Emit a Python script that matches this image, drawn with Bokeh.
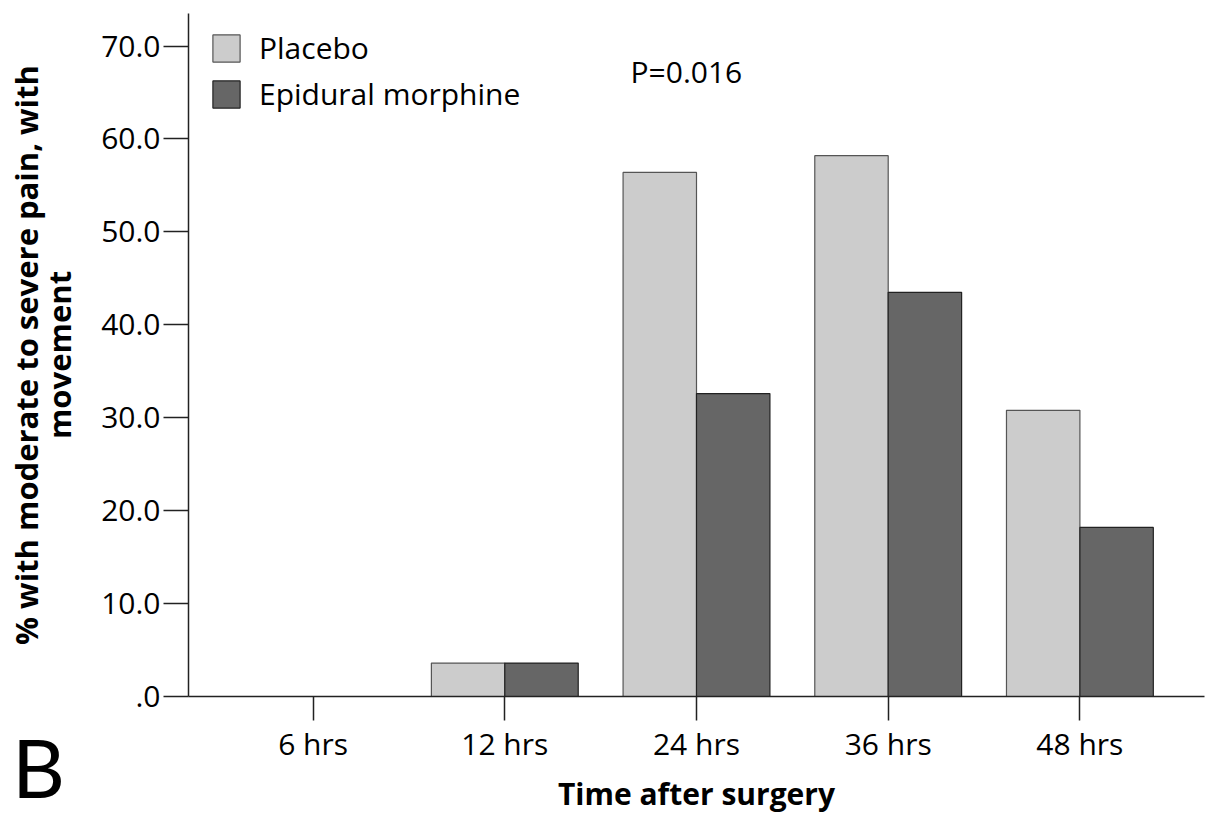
from bokeh.plotting import figure
from bokeh.models import Range1d, FixedTicker, Legend, LegendItem, Label, Div
from bokeh.layouts import column
from bokeh.embed import file_html
from bokeh.resources import INLINE

# Data: % of patients with moderate to severe pain on movement
times = ["6 hrs", "12 hrs", "24 hrs", "36 hrs", "48 hrs"]
placebo = [0.0, 3.6, 56.4, 58.2, 30.8]
epidural = [0.0, 3.6, 32.6, 43.5, 18.2]
y_ticks = [0, 10, 20, 30, 40, 50, 60, 70]
y_tick_labels = [".0", "10.0", "20.0", "30.0", "40.0", "50.0", "60.0", "70.0"]
p_value_text = "P=0.016"
panel_letter = "B"

FONT = "Open Sans"
BAR_W = 0.383
idx = list(range(len(times)))

p = figure(width=1212, height=816, output_backend="svg", toolbar_location=None,
           x_range=Range1d(-0.65, 4.65), y_range=Range1d(0, 73.5),
           min_border_left=188, min_border_right=8, min_border_top=13,
           min_border_bottom=120)
p.outline_line_color = None
p.xgrid.visible = False
p.ygrid.visible = False
p.background_fill_color = "white"
p.border_fill_color = "white"

r_pl = p.vbar(x=[i - BAR_W / 2 for i in idx], top=placebo, width=BAR_W, bottom=0,
              fill_color="#cccccc", line_color="#555555", line_width=1.2)
r_ep = p.vbar(x=[i + BAR_W / 2 for i in idx], top=epidural, width=BAR_W, bottom=0,
              fill_color="#666666", line_color="#222222", line_width=1.2)

# y axis
ya = p.yaxis[0]
ya.ticker = FixedTicker(ticks=y_ticks)
ya.major_label_overrides = {t: s for t, s in zip(y_ticks, y_tick_labels)}
ya.minor_tick_line_color = None
ya.major_tick_in = 0
ya.major_tick_out = 25
ya.major_label_standoff = 3
ya.axis_line_color = "#222222"
ya.major_tick_line_color = "#222222"
ya.axis_line_width = 1.5
ya.major_tick_line_width = 1.5
ya.major_label_text_font = FONT
ya.major_label_text_font_size = "30px"
ya.major_label_text_color = "black"
ya.axis_label = "% with moderate to severe pain, with\nmovement"
ya.axis_label_text_font = FONT
ya.axis_label_text_font_size = "31px"
ya.axis_label_text_font_style = "bold"
ya.axis_label_text_color = "black"
ya.axis_label_text_line_height = 0.8
ya.axis_label_standoff = 18

# x axis
xa = p.xaxis[0]
xa.ticker = FixedTicker(ticks=idx)
xa.major_label_overrides = {i: t for i, t in zip(idx, times)}
xa.minor_tick_line_color = None
xa.major_tick_in = 0
xa.major_tick_out = 24
xa.major_label_standoff = 2
xa.axis_line_color = "#222222"
xa.major_tick_line_color = "#222222"
xa.axis_line_width = 1.5
xa.major_tick_line_width = 1.5
xa.major_label_text_font = FONT
xa.major_label_text_font_size = "30px"
xa.major_label_text_color = "black"
xa.axis_label = "Time after surgery"
xa.axis_label_text_font = FONT
xa.axis_label_text_font_size = "30px"
xa.axis_label_text_font_style = "bold"
xa.axis_label_text_color = "black"
xa.axis_label_standoff = 6

legend = Legend(items=[LegendItem(label="Placebo", renderers=[r_pl]),
                       LegendItem(label="Epidural morphine", renderers=[r_ep])],
                location=(21, 582), orientation="vertical",
                glyph_width=34, glyph_height=34, spacing=5, padding=0, margin=0,
                label_standoff=16, label_text_font=FONT,
                label_text_font_size="30px", label_text_color="black",
                border_line_color=None, background_fill_alpha=0)
p.add_layout(legend, "center")

p.add_layout(Label(x=1.656, y=67.3, text=p_value_text, text_font=FONT,
                   text_font_size="30px", text_color="black",
                   text_baseline="alphabetic"))

# panel letter in the lower-left corner, outside the plot frame
letter = Div(text=('<div style="font-family:Lato;font-size:82px;'
                   'line-height:100px;color:#000;">' + panel_letter + '</div>'),
             width=90, height=100, margin=(-100, 0, 0, 12))

layout = column(p, letter)
open("out.html", "w").write(file_html(layout, INLINE))
